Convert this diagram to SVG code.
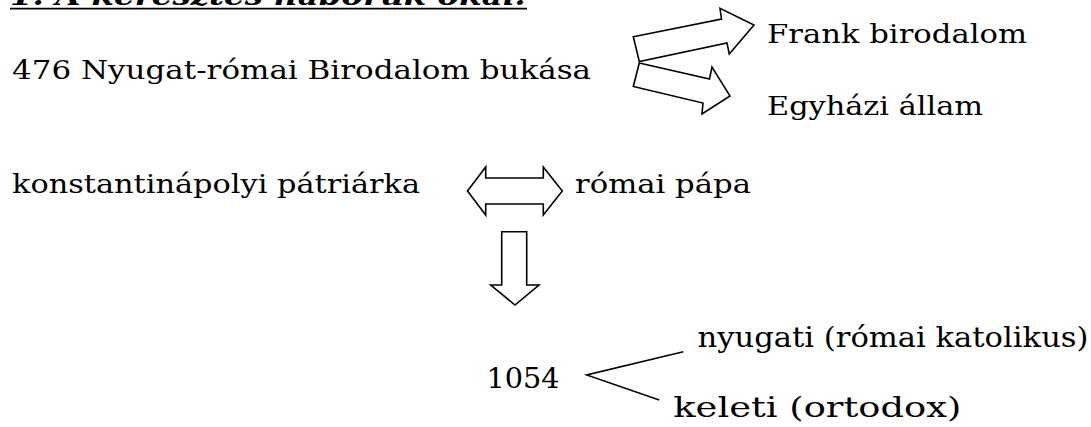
<svg xmlns="http://www.w3.org/2000/svg" width="1091" height="427" viewBox="0 0 1091 427">
<style>
.t{font-family:"DejaVu Serif","Liberation Serif",serif;font-size:26px;fill:#000}
.c{font-family:"DejaVu Serif","Liberation Serif",serif;font-size:28px;fill:#000}
.h{font-family:"DejaVu Serif","Liberation Serif",serif;font-size:26px;font-weight:bold;font-style:italic;fill:#000}
.a{fill:#fff;stroke:#000;stroke-width:1.6;stroke-linejoin:miter}
.l{fill:none;stroke:#000;stroke-width:1.6}
</style>
<rect width="1091" height="427" fill="#fff"/>
<g id="title">
<text class="h" x="10" y="4.5" textLength="517" lengthAdjust="spacingAndGlyphs">1. A keresztes háborúk okai:</text>
<line x1="10" y1="8.6" x2="527" y2="8.6" stroke="#000" stroke-width="1.6"/>
</g>
<g id="n476"><text class="t" x="12" y="79" textLength="579" lengthAdjust="spacingAndGlyphs">476 Nyugat-római Birodalom bukása</text></g>
<g id="frank"><text class="t" x="767" y="43" textLength="260" lengthAdjust="spacingAndGlyphs">Frank birodalom</text></g>
<g id="egyhazi"><text class="t" x="767" y="115" textLength="216" lengthAdjust="spacingAndGlyphs">Egyházi állam</text></g>
<g id="patriarka"><text class="t" x="12" y="193" textLength="408" lengthAdjust="spacingAndGlyphs">konstantinápolyi pátriárka</text></g>
<g id="papa"><text class="t" x="575" y="193" textLength="176" lengthAdjust="spacingAndGlyphs">római pápa</text></g>
<g id="n1054"><text class="c" x="486.5" y="388" textLength="73" lengthAdjust="spacingAndGlyphs">1054</text></g>
<g id="nyugati"><text class="c" x="697.5" y="347" textLength="391" lengthAdjust="spacingAndGlyphs">nyugati (római katolikus)</text></g>
<g id="keleti"><text class="c" x="673.3" y="417" textLength="288" lengthAdjust="spacingAndGlyphs">keleti (ortodox)</text></g>
<g id="connectors">
<polygon class="a" points="633.3,36.7 721.5,19 720,8.3 754,25 729.3,54 727,43 639.3,61.5"/>
<polygon class="a" points="639.3,63 709.5,79 712,67 730,96 702,114 703,103 633.3,86.5"/>
<polygon class="a" points="467.5,191 485.7,167 485.7,178 543.3,178 543.3,167 562.3,191 543.3,215 543.3,204 485.7,204 485.7,215"/>
<polygon class="a" points="501.7,231.7 526.7,231.7 526.7,285 539,285 515,305 490.7,285 501.7,285"/>
<polyline class="l" points="683.3,351.7 586.7,375 659.3,400"/>
</g>
</svg>
